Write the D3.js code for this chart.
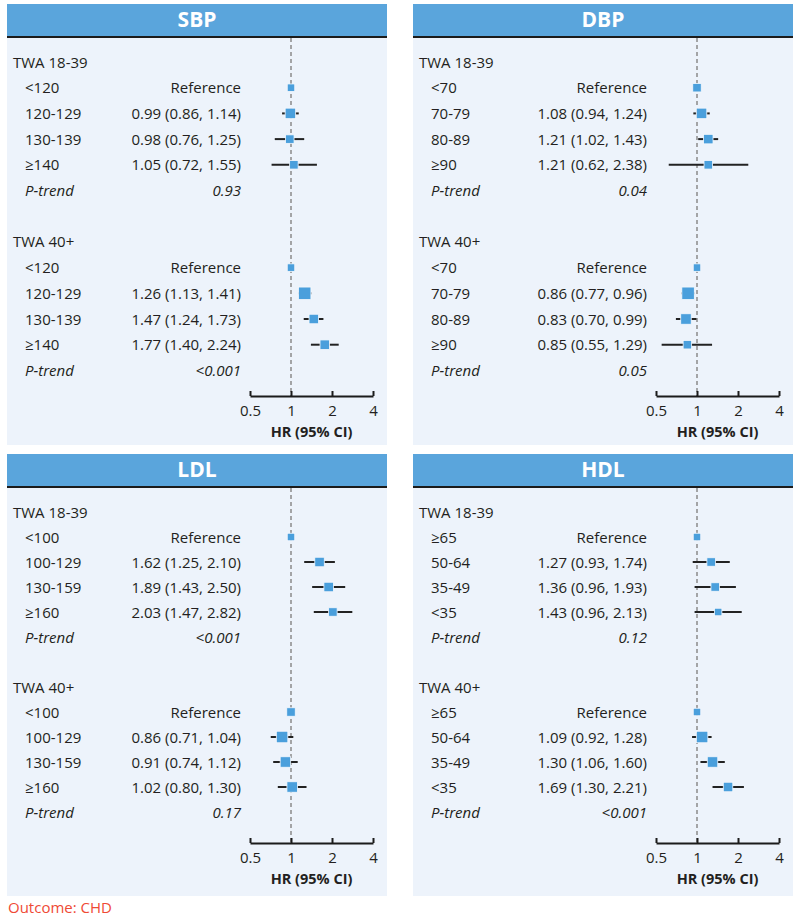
<!DOCTYPE html>
<html>
<head>
<meta charset="utf-8">
<script src="https://cdnjs.cloudflare.com/ajax/libs/d3/7.8.5/d3.min.js"></script>
<style>
  body { margin:0; background:#fff; }
  #chart { width:800px; height:920px; }
  text { font-family:"Open Sans", sans-serif; fill:#231f20; }
</style>
</head>
<body>
<div id="chart"></div>
<script>
// ---- data ----
const groupLabels = ["TWA 18-39", "TWA 40+"];
const axisTicks = [0.5, 1, 2, 4];

const sbpCats = ["<120", "120-129", "130-139", "≥140"];
const sbpHR = [[1, 0.99, 0.98, 1.05], [1, 1.26, 1.47, 1.77]];
const sbpLo = [[null, 0.86, 0.76, 0.72], [null, 1.13, 1.24, 1.40]];
const sbpHi = [[null, 1.14, 1.25, 1.55], [null, 1.41, 1.73, 2.24]];
const sbpP = ["0.93", "<0.001"];
const sbpW = [[7, 10, 8, 8], [7, 12, 9, 9]];

const dbpCats = ["<70", "70-79", "80-89", "≥90"];
const dbpHR = [[1, 1.08, 1.21, 1.21], [1, 0.86, 0.83, 0.85]];
const dbpLo = [[null, 0.94, 1.02, 0.62], [null, 0.77, 0.70, 0.55]];
const dbpHi = [[null, 1.24, 1.43, 2.38], [null, 0.96, 0.99, 1.29]];
const dbpP = ["0.04", "0.05"];
const dbpW = [[8, 10, 9, 8], [7, 12, 10, 8]];

const ldlCats = ["<100", "100-129", "130-159", "≥160"];
const ldlHR = [[1, 1.62, 1.89, 2.03], [1, 0.86, 0.91, 1.02]];
const ldlLo = [[null, 1.25, 1.43, 1.47], [null, 0.71, 0.74, 0.80]];
const ldlHi = [[null, 2.10, 2.50, 2.82], [null, 1.04, 1.12, 1.30]];
const ldlP = ["<0.001", "0.17"];
const ldlW = [[7, 9, 9, 8], [8, 11, 10, 10]];

const hdlCats = ["≥65", "50-64", "35-49", "<35"];
const hdlHR = [[1, 1.27, 1.36, 1.43], [1, 1.09, 1.30, 1.69]];
const hdlLo = [[null, 0.93, 0.96, 0.96], [null, 0.92, 1.06, 1.30]];
const hdlHi = [[null, 1.74, 1.93, 2.13], [null, 1.28, 1.60, 2.21]];
const hdlP = ["0.12", "<0.001"];
const hdlW = [[7, 8, 8, 7], [7, 11, 10, 9]];

const panels = [
  {name:"SBP", cats:sbpCats, hr:sbpHR, lo:sbpLo, hi:sbpHi, p:sbpP, w:sbpW},
  {name:"DBP", cats:dbpCats, hr:dbpHR, lo:dbpLo, hi:dbpHi, p:dbpP, w:dbpW},
  {name:"LDL", cats:ldlCats, hr:ldlHR, lo:ldlLo, hi:ldlHi, p:ldlP, w:ldlW},
  {name:"HDL", cats:hdlCats, hr:hdlHR, lo:hdlLo, hi:hdlHi, p:hdlP, w:hdlW}
];

// ---- layout ----
const panelW = 380, headH = 32;
const cols = [7, 413];
const rows = [
  {y:4, row0:62, step:25.7, axisY:396, bottom:445},
  {y:454, row0:512, step:25, axisY:843, bottom:896}
];
const blue = "#5aa5dc", bg = "#edf3fb", box = "#4a9fdc";

const svg = d3.select("#chart").append("svg").attr("width", 800).attr("height", 920);

const size = d3.scaleLinear().domain([7, 12]).range([7.5, 12.5]);

panels.forEach((p, i) => {
  const x0 = cols[i % 2], L = rows[Math.floor(i / 2)];
  const g = svg.append("g");
  const x = d3.scaleLog().domain([0.5, 4]).range([x0 + 243, x0 + 366]);
  const rowY = r => L.row0 + r * L.step;

  g.append("rect").attr("x", x0).attr("y", L.y).attr("width", panelW)
    .attr("height", L.bottom - L.y).attr("fill", bg);
  g.append("rect").attr("x", x0).attr("y", L.y).attr("width", panelW)
    .attr("height", headH).attr("fill", blue);
  g.append("line").attr("x1", x0).attr("x2", x0 + panelW)
    .attr("y1", L.y + headH + 1).attr("y2", L.y + headH + 1)
    .attr("stroke", "#1b1b1b").attr("stroke-width", 2);
  g.append("text").attr("x", x0 + panelW / 2).attr("y", L.y + headH / 2 + 7)
    .attr("text-anchor", "middle").attr("font-size", 21).attr("font-weight", 700)
    .style("fill", "#fff").text(p.name);

  // reference line at HR = 1
  g.append("line").attr("x1", x(1)).attr("x2", x(1))
    .attr("y1", L.y + headH + 2).attr("y2", L.axisY)
    .attr("stroke", "#8a8a8a").attr("stroke-width", 1.5).attr("stroke-dasharray", "4,3");

  groupLabels.forEach((lab, gi) => {
    const base = gi * 7;
    g.append("text").attr("x", x0 + 6).attr("y", rowY(base) + 5.5)
      .attr("font-size", 15).text(lab);

    p.cats.forEach((c, ci) => {
      const y = rowY(base + 1 + ci);
      const hr = p.hr[gi][ci], lo = p.lo[gi][ci], hi = p.hi[gi][ci];
      g.append("text").attr("x", x0 + 18).attr("y", y + 5.5).attr("font-size", 15).text(c);
      g.append("text").attr("x", x0 + 234).attr("y", y + 5.5).attr("font-size", 15)
        .attr("text-anchor", "end")
        .text(lo == null ? "Reference" : hr.toFixed(2) + " (" + lo.toFixed(2) + ", " + hi.toFixed(2) + ")");
      if (lo != null) {
        g.append("line").attr("x1", x(lo)).attr("x2", x(hi)).attr("y1", y).attr("y2", y)
          .attr("stroke", "#222").attr("stroke-width", 2);
      }
      const s = size(p.w[gi][ci]);
      g.append("rect").attr("x", x(hr) - s / 2).attr("y", y - s / 2)
        .attr("width", s).attr("height", s)
        .attr("fill", box).attr("stroke", "#f4f8fd").attr("stroke-width", 0.8);
    });

    const py = rowY(base + 5) + 5.5;
    g.append("text").attr("x", x0 + 18).attr("y", py).attr("font-size", 15)
      .attr("font-style", "italic").text("P-trend");
    g.append("text").attr("x", x0 + 234).attr("y", py).attr("font-size", 15)
      .attr("font-style", "italic").attr("text-anchor", "end").text(p.p[gi]);
  });

  const ax = g.append("g").attr("transform", "translate(0," + L.axisY + ")")
    .call(d3.axisBottom(x).tickValues(axisTicks).tickFormat(d => String(d))
      .tickSizeInner(-5).tickSizeOuter(0).tickPadding(9));
  ax.select(".domain").attr("stroke", "#1b1b1b").attr("stroke-width", 2);
  ax.selectAll(".tick line").attr("stroke", "#1b1b1b").attr("stroke-width", 2);
  ax.selectAll(".tick text").attr("font-size", 15).attr("font-family", null).style("fill", "#231f20");

  g.append("text").attr("x", (x(0.5) + x(4)) / 2).attr("y", L.axisY + 41)
    .attr("text-anchor", "middle").attr("font-size", 14.5).attr("font-weight", 700)
    .text("HR (95% CI)");
});

svg.append("text").attr("x", 8).attr("y", 913).attr("font-size", 15)
  .style("fill", "#ef4a35").text("Outcome: CHD");
</script>
</body>
</html>
